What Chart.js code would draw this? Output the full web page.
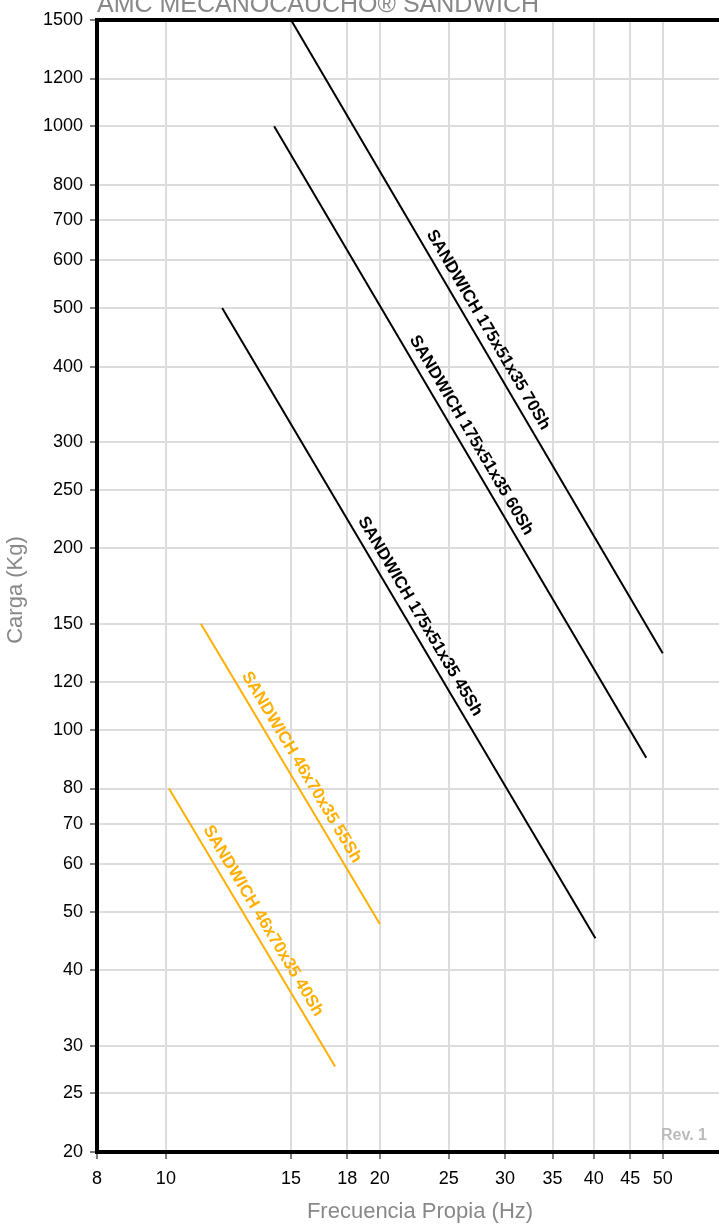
<!DOCTYPE html>
<html lang="es">
<head>
<meta charset="UTF-8">
<title>AMC Mecanocaucho Sandwich</title>
<style>
  body { margin: 0; background: #fff; }
  #wrap { width: 719px; height: 1225px; position: relative; }
</style>
</head>
<body>
<div id="wrap"><canvas id="chart" width="719" height="1225"></canvas></div>
<script src="https://cdn.jsdelivr.net/npm/chart.js"></script>
<script>
// tick labels
const xTicks = [8, 10, 15, 18, 20, 25, 30, 35, 40, 45, 50];
const yTicks = [20, 25, 30, 40, 50, 60, 70, 80, 100, 120, 150, 200, 250, 300, 400, 500, 600, 700, 800, 1000, 1200, 1500];

// series (start / end point of each line, Hz and Kg)
const names = ['SANDWICH 175x51x35 70Sh', 'SANDWICH 175x51x35 60Sh', 'SANDWICH 175x51x35 45Sh', 'SANDWICH 46x70x35 55Sh', 'SANDWICH 46x70x35 40Sh'];
const freq70 = [15, 50],    load70 = [1500, 134];
const freq60 = [14.2, 47.4], load60 = [1000, 90];
const freq45 = [12, 40.2],  load45 = [500, 45.2];
const freq55 = [11.2, 20],  load55 = [150, 47.7];
const freq40 = [10.1, 17.3], load40 = [80, 27.7];

const BLACK = '#000000', ORANGE = '#FFAF00';
const colors = [BLACK, BLACK, BLACK, ORANGE, ORANGE];
const freqs = [freq70, freq60, freq45, freq55, freq40];
const loads = [load70, load60, load45, load55, load40];

const FONT = '"Liberation Sans", Arial, sans-serif';

const datasets = names.map((n, i) => ({
  label: n,
  data: freqs[i].map((f, j) => ({ x: f, y: loads[i][j] })),
  borderColor: colors[i],
  borderWidth: 2,
  pointRadius: 0,
  fill: false
}));

// labels along the lines + titles + frame
const decor = {
  id: 'decor',
  afterDatasetsDraw(chart) {
    const { ctx, chartArea: a, scales: { x, y } } = chart;
    ctx.save();
    // frame
    ctx.strokeStyle = '#000';
    ctx.lineWidth = 4;
    ctx.strokeRect(a.left, a.top, a.right - a.left + 2, a.bottom - a.top);

    // line labels
    ctx.font = 'bold 17px ' + FONT;
    ctx.textAlign = 'center';
    ctx.textBaseline = 'middle';
    names.forEach((n, i) => {
      const x0 = x.getPixelForValue(freqs[i][0]), y0 = y.getPixelForValue(loads[i][0]);
      const x1 = x.getPixelForValue(freqs[i][1]), y1 = y.getPixelForValue(loads[i][1]);
      const ang = Math.atan2(y1 - y0, x1 - x0);
      const t = 0.5;
      const px = x0 + (x1 - x0) * t + Math.sin(ang) * 13;
      const py = y0 + (y1 - y0) * t - Math.cos(ang) * 13;
      ctx.save();
      ctx.translate(px, py);
      ctx.rotate(ang);
      ctx.fillStyle = colors[i];
      ctx.fillText(n, 0, 0);
      ctx.restore();
    });

    // Rev. 1
    ctx.font = 'bold 16px ' + FONT;
    ctx.fillStyle = '#bbbbbb';
    ctx.textAlign = 'right';
    ctx.textBaseline = 'alphabetic';
    ctx.fillText('Rev. 1', 707, 1140);

    // top title (partly cut like the original)
    ctx.font = '25px ' + FONT;
    ctx.fillStyle = '#888888';
    ctx.textAlign = 'left';
    ctx.fillText('AMC MECANOCAUCHO\u00AE SANDWICH', 97, 12);

    // axis titles
    ctx.font = '22px ' + FONT;
    ctx.textAlign = 'center';
    ctx.textBaseline = 'middle';
    ctx.fillText('Frecuencia Propia (Hz)', 420, 1212);
    ctx.translate(16, 590);
    ctx.rotate(-Math.PI / 2);
    ctx.fillText('Carga (Kg)', 0, 0);
    ctx.restore();
  }
};

new Chart(document.getElementById('chart'), {
  type: 'line',
  data: { datasets },
  options: {
    responsive: false,
    animation: false,
    layout: { padding: { top: 20, right: 0, left: 0, bottom: 0 } },
    plugins: { legend: { display: false }, tooltip: { enabled: false } },
    scales: {
      x: {
        type: 'logarithmic',
        min: 8, max: 60,
        afterBuildTicks: s => { s.ticks = xTicks.map(v => ({ value: v })); },
        afterFit: s => { s.height = 73; },
        ticks: {
          autoSkip: false, maxRotation: 0,
          color: '#000', padding: 9,
          font: { family: FONT, size: 18 },
          callback: v => String(v)
        },
        grid: { color: '#dcdcdc', lineWidth: 2, tickColor: '#000', tickWidth: 1, tickLength: 7 },
        border: { color: '#000', width: 4 }
      },
      y: {
        type: 'logarithmic',
        min: 20, max: 1500,
        afterBuildTicks: s => { s.ticks = yTicks.map(v => ({ value: v })); },
        afterFit: s => { s.width = 97; },
        ticks: {
          autoSkip: false,
          color: '#000', padding: 7,
          font: { family: FONT, size: 18 },
          callback: v => String(v)
        },
        grid: { color: '#dcdcdc', lineWidth: 2, tickColor: '#000', tickWidth: 1, tickLength: 7 },
        border: { color: '#000', width: 4 }
      }
    }
  },
  plugins: [decor]
});
</script>
</body>
</html>
